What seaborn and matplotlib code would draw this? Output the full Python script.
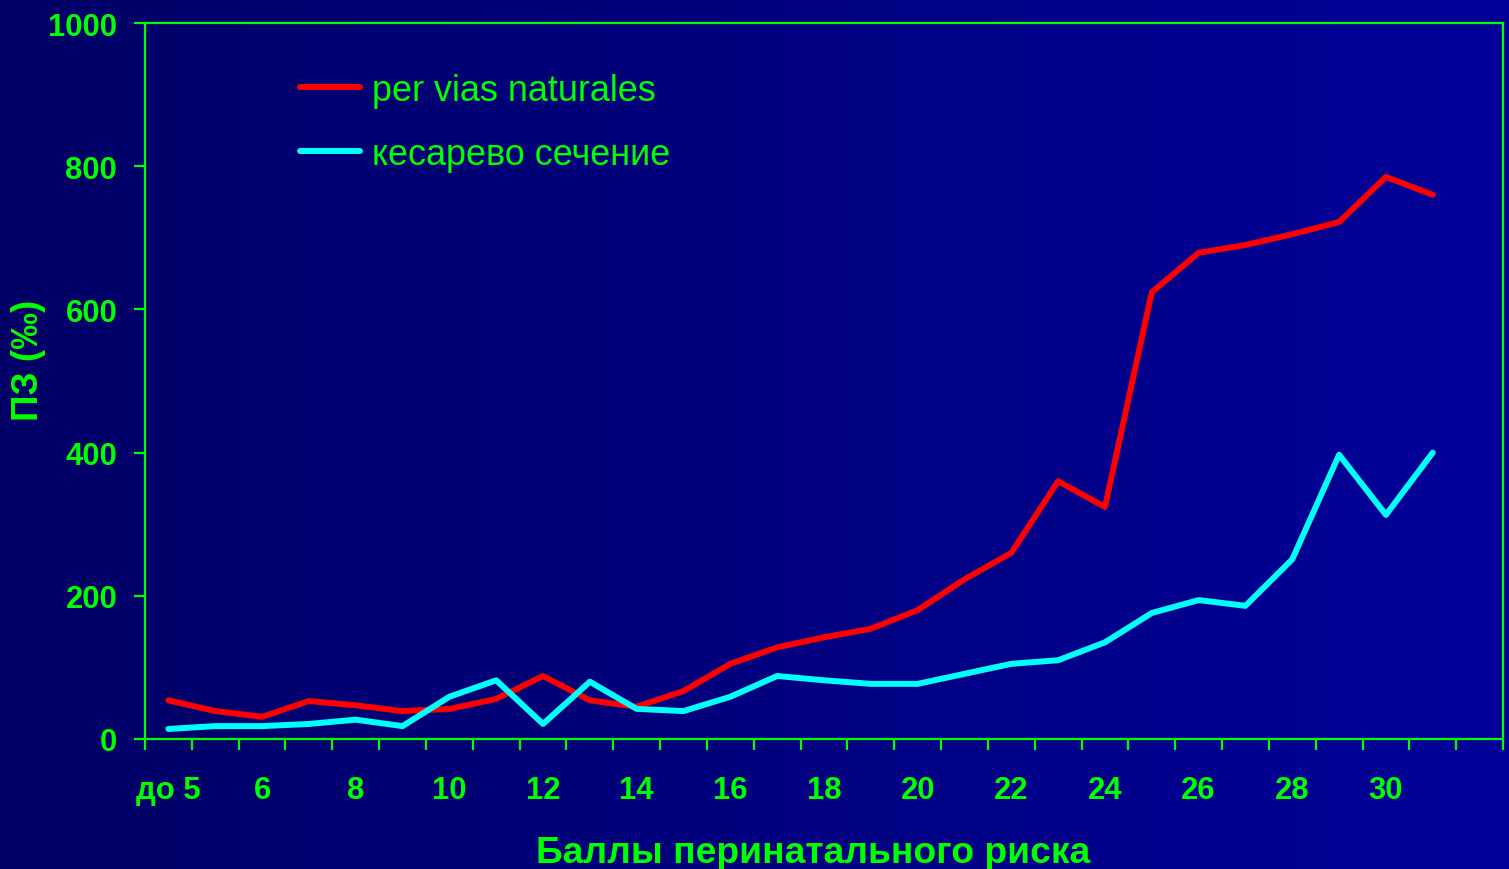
import numpy as np
import pandas as pd
import matplotlib
matplotlib.use("Agg")
import matplotlib.pyplot as plt
import seaborn as sns
from matplotlib.ticker import FixedLocator, FixedFormatter
from matplotlib.colors import LinearSegmentedColormap

# Risk score categories (29 slots, the last one holds no data)
categories = ["до 5", "5", "6", "7", "8", "9", "10", "11", "12", "13", "14", "15",
              "16", "17", "18", "19", "20", "21", "22", "23", "24", "25", "26",
              "27", "28", "29", "30", "31", "32"]

natural = [54, 39, 31, 53, 47, 39, 42, 56, 88, 54, 45, 67, 105, 128, 142, 154,
           180, 223, 260, 360, 324, 624, 679, 690, 705, 722, 785, 760]
cesarean = [14, 18, 18, 21, 27, 18, 59, 82, 21, 80, 42, 39, 59, 88, 82, 77,
            77, 91, 105, 110, 135, 176, 194, 186, 251, 397, 313, 400]

series_names = ["per vias naturales", "кесарево сечение"]
series_colors = ["#FF0000", "#00FFFF"]
y_ticks = [0, 200, 400, 600, 800, 1000]

GREEN = "#00FF00"
FONT = ["Liberation Sans", "DejaVu Sans"]

sns.set_theme(style="white")
plt.rcParams["font.family"] = FONT

df = pd.DataFrame({
    "pos": list(range(len(natural))) + list(range(len(cesarean))),
    "value": natural + cesarean,
    "series": [series_names[0]] * len(natural) + [series_names[1]] * len(cesarean),
})

W, H = 1509, 870
fig = plt.figure(figsize=(W / 100, H / 100), dpi=100)

# horizontal navy gradient behind everything
bg = fig.add_axes([0, 0, 1, 1], zorder=-10)
grad = np.linspace(0, 1, 256).reshape(1, -1)
cmap = LinearSegmentedColormap.from_list("navy", ["#000066", "#000098"])
bg.imshow(grad, aspect="auto", cmap=cmap, extent=[0, 1, 0, 1])
bg.set_axis_off()

ax = fig.add_axes([145 / W, 130 / H, (1503 - 145) / W, (740 - 24) / H])
ax.set_facecolor("none")

LW = 4.3
sns.lineplot(data=df, x="pos", y="value", hue="series", hue_order=series_names,
             palette=series_colors, linewidth=LW, ax=ax, legend=True)

n = len(categories)
ax.set_xlim(-0.5, n - 0.5)
ax.set_ylim(0, 1000)

for s in ax.spines.values():
    s.set_visible(True)
    s.set_color(GREEN)
    s.set_linewidth(1.6)

# labels every other category, tick marks on category boundaries
label_pos = list(range(0, 27, 2))
ax.xaxis.set_major_locator(FixedLocator(label_pos))
ax.xaxis.set_major_formatter(FixedFormatter([categories[i] for i in label_pos]))
ax.xaxis.set_minor_locator(FixedLocator(np.arange(-0.5, n, 1.0)))
ax.tick_params(axis="x", which="major", length=0, pad=26, labelsize=22.3,
               labelcolor=GREEN)
ax.tick_params(axis="x", which="minor", length=8, width=1.6, color=GREEN,
               direction="out", bottom=True)
for lbl in ax.get_xticklabels():
    lbl.set_fontweight("bold")

ax.set_yticks(y_ticks)
ax.set_yticklabels([str(v) for v in y_ticks])
ax.tick_params(axis="y", which="major", length=8, width=1.6, color=GREEN,
               direction="out", pad=12, labelsize=22.3, labelcolor=GREEN, left=True)
for lbl in ax.get_yticklabels():
    lbl.set_fontweight("bold")

ax.set_xlabel("")
ax.set_ylabel("")
ax.grid(False)

fig.text(813 / W, 7 / H, "Баллы перинатального риска", color=GREEN,
         fontsize=26.8, fontweight="bold", ha="center", va="baseline", family=FONT)
fig.text(29 / W, (H - 360) / H, "ПЗ (‰)", color=GREEN, rotation=90,
         fontsize=26.5, fontweight="bold", ha="center", va="center", family=FONT)

handles, labels = ax.get_legend_handles_labels()
leg = ax.legend(handles, labels, loc="upper left",
                bbox_to_anchor=((300 - 145) / (1503 - 145), (740 - 74) / 716),
                frameon=False, fontsize=25.9, handlelength=1.68, handletextpad=0.33,
                labelspacing=0.8, borderpad=0, borderaxespad=0)
for t in leg.get_texts():
    t.set_color(GREEN)
for h in leg.get_lines():
    h.set_linewidth(LW)

fig.savefig("out.png", dpi=100)
